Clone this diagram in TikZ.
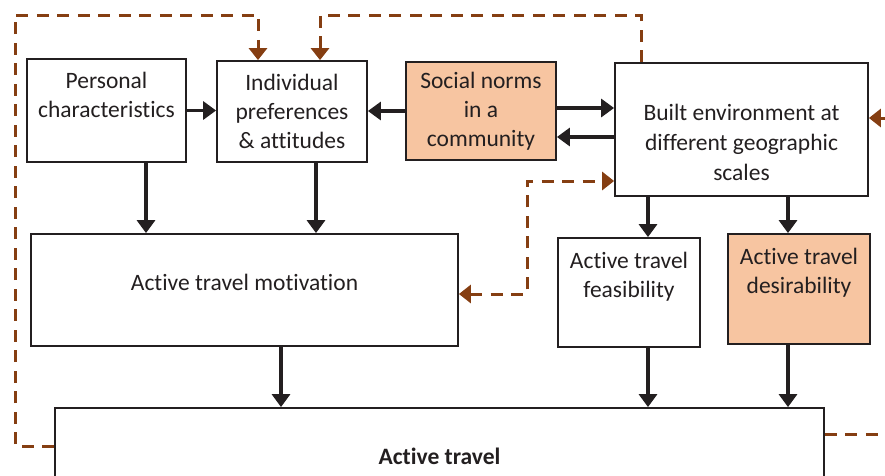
\documentclass[tikz,border=0pt]{standalone}
\usepackage{fontspec}
\setmainfont{Carlito}[Ligatures=NoCommon]
\usetikzlibrary{arrows.meta}

\definecolor{boxline}{RGB}{35,31,32}
\definecolor{peach}{RGB}{247,197,161}
\definecolor{rust}{RGB}{133,62,18}

\tikzset{
  box/.style={draw=boxline, line width=1.8pt, inner sep=0pt, align=center,
    font=\fontsize{23.5}{29}\selectfont, text=boxline},
  normbox/.style={box, fill=peach},
  flow/.style={->, draw=boxline, line width=3.2pt},
  feedback/.style={-{Triangle[width=18pt,length=12pt]}, draw=rust, line width=3pt,
    dash pattern=on 12pt off 8.5pt}
}

\begin{document}
\begin{tikzpicture}[x=1pt, y=-1pt, >={Triangle[width=18pt,length=13pt]}]
    % page frame, anything beyond it is cut away
    \useasboundingbox (0,0) rectangle (885,475);
    \clip (0,0) rectangle (885,475);

    % top row
    \node[box, minimum width=159pt, minimum height=103pt] (pers) at (106.5,110.5)
        {Personal\\characteristics\\[3pt]\mbox{}};
    \node[box, minimum width=150pt, minimum height=101pt] (pref) at (292,111.5)
        {Individual\\preferences\\\& attitudes};
    \node[normbox, minimum width=150pt, minimum height=98pt] (norms) at (481,111)
        {Social norms\\in a\\community};
    \node[box, minimum width=253pt, minimum height=133pt,
          font=\fontsize{23.5}{30}\selectfont] (built) at (741.5,129.5)
        {\mbox{}\\[12pt]Built environment at\\different geographic\\scales};

    % middle row
    \node[box, minimum width=427pt, minimum height=112pt] (motiv) at (244.5,290)
        {Active travel motivation\\[-13pt]\mbox{}};
    \node[box, minimum width=142pt, minimum height=109pt] (feas) at (629,292.5)
        {Active travel\\feasibility\\[7pt]\mbox{}};
    \node[normbox, minimum width=142pt, minimum height=110pt] (desir) at (799,289)
        {Active travel\\desirability\\[8pt]\mbox{}};

    % bottom box
    \node[box, minimum width=769pt, minimum height=96pt] (travel) at (439.5,456)
        {\bfseries Active travel};

    % solid links
    \draw[flow] (pers.east) -- (pers.east -| pref.west);
    \draw[flow] (norms.west) -- (norms.west -| pref.east);
    \draw[flow] ([yshift=3pt]norms.east) -- ([yshift=3pt]norms.east -| built.west);
    \draw[flow] ([yshift=-26pt]norms.east -| built.west) -- ([yshift=-26pt]norms.east);
    \draw[flow] ([xshift=39.5pt]pers.south) -- ([xshift=39.5pt]pers.south |- motiv.north);
    \draw[flow] ([xshift=24pt]pref.south) -- ([xshift=24pt]pref.south |- motiv.north);
    \draw[flow] ([xshift=-93.5pt]built.south) -- ([xshift=-93.5pt]built.south |- feas.north);
    \draw[flow] ([xshift=46.5pt]built.south) -- ([xshift=46.5pt]built.south |- desir.north);
    \draw[flow] ([xshift=36.5pt]motiv.south) -- ([xshift=36.5pt]motiv.south |- travel.north);
    \draw[flow] ([xshift=19pt]feas.south) -- ([xshift=19pt]feas.south |- travel.north);
    \draw[flow] ([xshift=-11pt]desir.south) -- ([xshift=-11pt]desir.south |- travel.north);

    % dashed feedback loops
    \draw[feedback] ([yshift=10pt]travel.west) -| (15,15) -| ([xshift=-34pt]pref.north);
    \draw[feedback] ([xshift=-100.5pt]built.north) |- (320,15) -- ([xshift=28pt]pref.north);
    \draw[feedback, {Triangle[width=18pt,length=12pt]}-{Triangle[width=18pt,length=12pt]}]
        ([yshift=-4pt]motiv.east) -| (527,181) -- ([yshift=-51.5pt]built.west);
    \draw[feedback] ([yshift=22pt]travel.east) -| (905,118) -- ([yshift=11.5pt]built.east);
\end{tikzpicture}
\end{document}
